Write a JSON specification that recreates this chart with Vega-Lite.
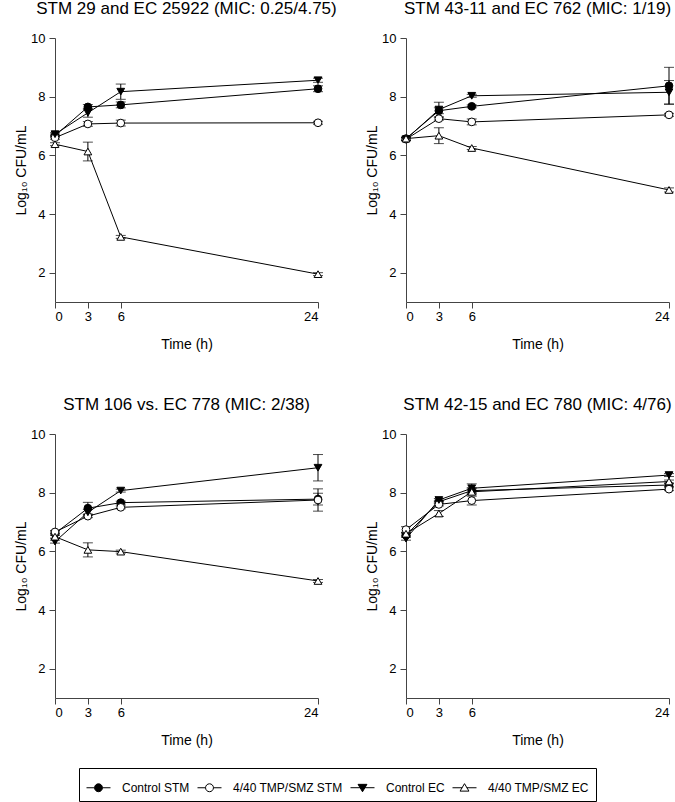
{
  "$schema": "https://vega.github.io/schema/vega-lite/v6.json",
  "padding": {"left": 14, "top": 0, "right": 0, "bottom": 0},
  "background": "white",
  "data": {"values": [
    {"panel":"A","s":"Control STM","t":0,"v":6.67,"e":0.05},
    {"panel":"A","s":"Control STM","t":3,"v":7.65,"e":0.08},
    {"panel":"A","s":"Control STM","t":6,"v":7.72,"e":0.1},
    {"panel":"A","s":"Control STM","t":24,"v":8.27,"e":0.1},
    {"panel":"A","s":"4/40 TMP/SMZ STM","t":0,"v":6.6,"e":0.05},
    {"panel":"A","s":"4/40 TMP/SMZ STM","t":3,"v":7.07,"e":0.08},
    {"panel":"A","s":"4/40 TMP/SMZ STM","t":6,"v":7.1,"e":0.1},
    {"panel":"A","s":"4/40 TMP/SMZ STM","t":24,"v":7.11,"e":0.05},
    {"panel":"A","s":"Control EC","t":0,"v":6.72,"e":0.05},
    {"panel":"A","s":"Control EC","t":3,"v":7.45,"e":0.15},
    {"panel":"A","s":"Control EC","t":6,"v":8.17,"e":0.26},
    {"panel":"A","s":"Control EC","t":24,"v":8.56,"e":0.07},
    {"panel":"A","s":"4/40 TMP/SMZ EC","t":0,"v":6.38,"e":0.05},
    {"panel":"A","s":"4/40 TMP/SMZ EC","t":3,"v":6.13,"e":0.32},
    {"panel":"A","s":"4/40 TMP/SMZ EC","t":6,"v":3.22,"e":0.05},
    {"panel":"A","s":"4/40 TMP/SMZ EC","t":24,"v":1.95,"e":0.05},

    {"panel":"B","s":"Control STM","t":0,"v":6.57,"e":0.05},
    {"panel":"B","s":"Control STM","t":3,"v":7.52,"e":0.1},
    {"panel":"B","s":"Control STM","t":6,"v":7.67,"e":0.05},
    {"panel":"B","s":"Control STM","t":24,"v":8.37,"e":0.63},
    {"panel":"B","s":"4/40 TMP/SMZ STM","t":0,"v":6.55,"e":0.05},
    {"panel":"B","s":"4/40 TMP/SMZ STM","t":3,"v":7.25,"e":0.05},
    {"panel":"B","s":"4/40 TMP/SMZ STM","t":6,"v":7.14,"e":0.1},
    {"panel":"B","s":"4/40 TMP/SMZ STM","t":24,"v":7.38,"e":0.05},
    {"panel":"B","s":"Control EC","t":0,"v":6.55,"e":0.05},
    {"panel":"B","s":"Control EC","t":3,"v":7.56,"e":0.25},
    {"panel":"B","s":"Control EC","t":6,"v":8.03,"e":0.05},
    {"panel":"B","s":"Control EC","t":24,"v":8.15,"e":0.4},
    {"panel":"B","s":"4/40 TMP/SMZ EC","t":0,"v":6.57,"e":0.05},
    {"panel":"B","s":"4/40 TMP/SMZ EC","t":3,"v":6.67,"e":0.27},
    {"panel":"B","s":"4/40 TMP/SMZ EC","t":6,"v":6.25,"e":0.05},
    {"panel":"B","s":"4/40 TMP/SMZ EC","t":24,"v":4.82,"e":0.07},

    {"panel":"C","s":"Control STM","t":0,"v":6.61,"e":0.05},
    {"panel":"C","s":"Control STM","t":3,"v":7.47,"e":0.2},
    {"panel":"C","s":"Control STM","t":6,"v":7.66,"e":0.05},
    {"panel":"C","s":"Control STM","t":24,"v":7.78,"e":0.2},
    {"panel":"C","s":"4/40 TMP/SMZ STM","t":0,"v":6.66,"e":0.05},
    {"panel":"C","s":"4/40 TMP/SMZ STM","t":3,"v":7.2,"e":0.05},
    {"panel":"C","s":"4/40 TMP/SMZ STM","t":6,"v":7.5,"e":0.05},
    {"panel":"C","s":"4/40 TMP/SMZ STM","t":24,"v":7.75,"e":0.38},
    {"panel":"C","s":"Control EC","t":0,"v":6.33,"e":0.05},
    {"panel":"C","s":"Control EC","t":3,"v":7.33,"e":0.1},
    {"panel":"C","s":"Control EC","t":6,"v":8.07,"e":0.05},
    {"panel":"C","s":"Control EC","t":24,"v":8.85,"e":0.45},
    {"panel":"C","s":"4/40 TMP/SMZ EC","t":0,"v":6.5,"e":0.05},
    {"panel":"C","s":"4/40 TMP/SMZ EC","t":3,"v":6.05,"e":0.24},
    {"panel":"C","s":"4/40 TMP/SMZ EC","t":6,"v":5.99,"e":0.05},
    {"panel":"C","s":"4/40 TMP/SMZ EC","t":24,"v":4.99,"e":0.05},

    {"panel":"D","s":"Control STM","t":0,"v":6.55,"e":0.05},
    {"panel":"D","s":"Control STM","t":3,"v":7.69,"e":0.05},
    {"panel":"D","s":"Control STM","t":6,"v":8.07,"e":0.1},
    {"panel":"D","s":"Control STM","t":24,"v":8.26,"e":0.05},
    {"panel":"D","s":"4/40 TMP/SMZ STM","t":0,"v":6.74,"e":0.1},
    {"panel":"D","s":"4/40 TMP/SMZ STM","t":3,"v":7.6,"e":0.05},
    {"panel":"D","s":"4/40 TMP/SMZ STM","t":6,"v":7.73,"e":0.15},
    {"panel":"D","s":"4/40 TMP/SMZ STM","t":24,"v":8.12,"e":0.05},
    {"panel":"D","s":"Control EC","t":0,"v":6.43,"e":0.05},
    {"panel":"D","s":"Control EC","t":3,"v":7.75,"e":0.05},
    {"panel":"D","s":"Control EC","t":6,"v":8.15,"e":0.15},
    {"panel":"D","s":"Control EC","t":24,"v":8.6,"e":0.05},
    {"panel":"D","s":"4/40 TMP/SMZ EC","t":0,"v":6.6,"e":0.05},
    {"panel":"D","s":"4/40 TMP/SMZ EC","t":3,"v":7.29,"e":0.1},
    {"panel":"D","s":"4/40 TMP/SMZ EC","t":6,"v":8.03,"e":0.1},
    {"panel":"D","s":"4/40 TMP/SMZ EC","t":24,"v":8.38,"e":0.05}
  ]},
  "config": {
    "font": "Liberation Sans",
    "view": {"stroke": null},
    "axis": {
      "grid": false,
      "domainColor": "#444",
      "tickColor": "#444",
      "labelColor": "black",
      "titleColor": "black",
      "labelFontSize": 13,
      "titleFontSize": 14,
      "titleFontWeight": "normal",
      "tickSize": 6
    },
    "axisX": {"labelPadding": 2, "titlePadding": 14},
    "axisY": {"labelPadding": 4, "titlePadding": 2},
    "title": {"fontSize": 17, "fontWeight": "normal", "color": "black", "offset": 14, "anchor": "middle"}
  },
  "spacing": 396,
  "bounds": "flush",
  "vconcat": [
    {
      "spacing": 88,
      "bounds": "flush",
      "hconcat": [
        {
          "title": "STM 29 and EC 25922 (MIC: 0.25/4.75)",
          "width": 263, "height": 264,
          "transform": [{"filter": "datum.panel === 'A'"}],
          "encoding": {
            "x": {"field": "t", "type": "quantitative", "scale": {"domain": [0, 24], "nice": false, "zero": false}, "axis": {"values": [0, 3, 6, 24], "title": "Time (h)"}},
            "y": {"field": "v", "type": "quantitative", "scale": {"domain": [1, 10], "nice": false, "zero": false}, "axis": {"values": [2, 4, 6, 8, 10], "title": "Log₁₀ CFU/mL"}}
          },
          "layer": [
            {"mark": {"type": "errorbar", "color": "black", "thickness": 1, "ticks": {"size": 10, "thickness": 1, "color": "black"}}, "encoding": {"yError": {"field": "e"}, "detail": {"field": "s"}}},
            {"mark": {"type": "line", "color": "black", "strokeWidth": 1}, "encoding": {"detail": {"field": "s"}}},
            {"mark": {"type": "point", "filled": true, "stroke": "black", "strokeWidth": 1, "size": 60, "opacity": 1},
             "encoding": {
               "shape": {"field": "s", "type": "nominal", "scale": {"domain": ["Control STM", "4/40 TMP/SMZ STM", "Control EC", "4/40 TMP/SMZ EC"], "range": ["circle", "circle", "triangle-down", "triangle-up"]}, "legend": null},
               "fill": {"field": "s", "type": "nominal", "scale": {"domain": ["Control STM", "4/40 TMP/SMZ STM", "Control EC", "4/40 TMP/SMZ EC"], "range": ["black", "white", "black", "white"]}, "legend": null}
             }}
          ]
        },
        {
          "title": "STM 43-11 and EC 762 (MIC: 1/19)",
          "width": 263, "height": 264,
          "transform": [{"filter": "datum.panel === 'B'"}],
          "encoding": {
            "x": {"field": "t", "type": "quantitative", "scale": {"domain": [0, 24], "nice": false, "zero": false}, "axis": {"values": [0, 3, 6, 24], "title": "Time (h)"}},
            "y": {"field": "v", "type": "quantitative", "scale": {"domain": [1, 10], "nice": false, "zero": false}, "axis": {"values": [2, 4, 6, 8, 10], "title": "Log₁₀ CFU/mL"}}
          },
          "layer": [
            {"mark": {"type": "errorbar", "color": "black", "thickness": 1, "ticks": {"size": 10, "thickness": 1, "color": "black"}}, "encoding": {"yError": {"field": "e"}, "detail": {"field": "s"}}},
            {"mark": {"type": "line", "color": "black", "strokeWidth": 1}, "encoding": {"detail": {"field": "s"}}},
            {"mark": {"type": "point", "filled": true, "stroke": "black", "strokeWidth": 1, "size": 60, "opacity": 1},
             "encoding": {
               "shape": {"field": "s", "type": "nominal", "scale": {"domain": ["Control STM", "4/40 TMP/SMZ STM", "Control EC", "4/40 TMP/SMZ EC"], "range": ["circle", "circle", "triangle-down", "triangle-up"]}, "legend": null},
               "fill": {"field": "s", "type": "nominal", "scale": {"domain": ["Control STM", "4/40 TMP/SMZ STM", "Control EC", "4/40 TMP/SMZ EC"], "range": ["black", "white", "black", "white"]}, "legend": null}
             }}
          ]
        }
      ]
    },
    {
      "spacing": 88,
      "bounds": "flush",
      "hconcat": [
        {
          "title": "STM 106 vs. EC 778 (MIC: 2/38)",
          "width": 263, "height": 264,
          "transform": [{"filter": "datum.panel === 'C'"}],
          "encoding": {
            "x": {"field": "t", "type": "quantitative", "scale": {"domain": [0, 24], "nice": false, "zero": false}, "axis": {"values": [0, 3, 6, 24], "title": "Time (h)"}},
            "y": {"field": "v", "type": "quantitative", "scale": {"domain": [1, 10], "nice": false, "zero": false}, "axis": {"values": [2, 4, 6, 8, 10], "title": "Log₁₀ CFU/mL"}}
          },
          "resolve": {"scale": {"shape": "independent", "fill": "independent"}},
          "layer": [
            {"mark": {"type": "errorbar", "color": "black", "thickness": 1, "ticks": {"size": 10, "thickness": 1, "color": "black"}}, "encoding": {"yError": {"field": "e"}, "detail": {"field": "s"}}},
            {"mark": {"type": "line", "color": "black", "strokeWidth": 1}, "encoding": {"detail": {"field": "s"}}},
            {"mark": {"type": "point", "filled": true, "stroke": "black", "strokeWidth": 1, "size": 60, "opacity": 1},
             "encoding": {
               "shape": {"field": "s", "type": "nominal", "scale": {"domain": ["Control STM", "4/40 TMP/SMZ STM", "Control EC", "4/40 TMP/SMZ EC"], "range": ["circle", "circle", "triangle-down", "triangle-up"]}, "legend": null},
               "fill": {"field": "s", "type": "nominal", "scale": {"domain": ["Control STM", "4/40 TMP/SMZ STM", "Control EC", "4/40 TMP/SMZ EC"], "range": ["black", "white", "black", "white"]}, "legend": null}
             }},
            {"transform": [{"filter": "false"}],
             "mark": {"type": "point", "filled": true, "stroke": "black", "strokeWidth": 1, "size": 576, "opacity": 1},
             "encoding": {
               "shape": {"field": "s", "type": "nominal",
                 "scale": {"domain": ["Control STM", "4/40 TMP/SMZ STM", "Control EC", "4/40 TMP/SMZ EC"],
                   "range": [
                     "M-1,0H-0.33M0.33,0H1M-0.33,0A0.33,0.33 0 1,0 0.33,0A0.33,0.33 0 1,0 -0.33,0Z",
                     "M-1,0H-0.33M0.33,0H1M-0.33,0A0.33,0.33 0 1,0 0.33,0A0.33,0.33 0 1,0 -0.33,0Z",
                     "M-1,0H1M-0.37,-0.28L0.37,-0.28L0,0.34Z",
                     "M-1,0H-0.19M0.19,0H1M0,-0.34L0.37,0.28L-0.37,0.28Z"
                   ]},
                 "legend": {"title": null, "orient": "none", "legendX": 24, "legendY": 334, "direction": "horizontal", "columns": 4,
                   "symbolSize": 576, "symbolStrokeWidth": 1,
                   "labelFontSize": 12, "labelColor": "black", "labelOffset": 11, "labelLimit": 300, "columnPadding": 5,
                   "padding": 7, "strokeColor": "black", "fillColor": "white",
                   "encode": {"symbols": {"stroke": {"value": "black"}, "strokeWidth": {"value": 1}, "opacity": {"value": 1}}}}},
               "fill": {"field": "s", "type": "nominal",
                 "scale": {"domain": ["Control STM", "4/40 TMP/SMZ STM", "Control EC", "4/40 TMP/SMZ EC"], "range": ["black", "white", "black", "white"]},
                 "legend": {"title": null, "orient": "none", "legendX": 24, "legendY": 334, "direction": "horizontal", "columns": 4,
                   "symbolSize": 576, "symbolStrokeWidth": 1,
                   "labelFontSize": 12, "labelColor": "black", "labelOffset": 11, "labelLimit": 300, "columnPadding": 5,
                   "padding": 7, "strokeColor": "black", "fillColor": "white",
                   "encode": {"symbols": {"stroke": {"value": "black"}, "strokeWidth": {"value": 1}, "opacity": {"value": 1}}}}}
             }}
          ]
        },
        {
          "title": "STM 42-15 and EC 780 (MIC: 4/76)",
          "width": 263, "height": 264,
          "transform": [{"filter": "datum.panel === 'D'"}],
          "encoding": {
            "x": {"field": "t", "type": "quantitative", "scale": {"domain": [0, 24], "nice": false, "zero": false}, "axis": {"values": [0, 3, 6, 24], "title": "Time (h)"}},
            "y": {"field": "v", "type": "quantitative", "scale": {"domain": [1, 10], "nice": false, "zero": false}, "axis": {"values": [2, 4, 6, 8, 10], "title": "Log₁₀ CFU/mL"}}
          },
          "layer": [
            {"mark": {"type": "errorbar", "color": "black", "thickness": 1, "ticks": {"size": 10, "thickness": 1, "color": "black"}}, "encoding": {"yError": {"field": "e"}, "detail": {"field": "s"}}},
            {"mark": {"type": "line", "color": "black", "strokeWidth": 1}, "encoding": {"detail": {"field": "s"}}},
            {"mark": {"type": "point", "filled": true, "stroke": "black", "strokeWidth": 1, "size": 60, "opacity": 1},
             "encoding": {
               "shape": {"field": "s", "type": "nominal", "scale": {"domain": ["Control STM", "4/40 TMP/SMZ STM", "Control EC", "4/40 TMP/SMZ EC"], "range": ["circle", "circle", "triangle-down", "triangle-up"]}, "legend": null},
               "fill": {"field": "s", "type": "nominal", "scale": {"domain": ["Control STM", "4/40 TMP/SMZ STM", "Control EC", "4/40 TMP/SMZ EC"], "range": ["black", "white", "black", "white"]}, "legend": null}
             }}
          ]
        }
      ]
    }
  ]
}
